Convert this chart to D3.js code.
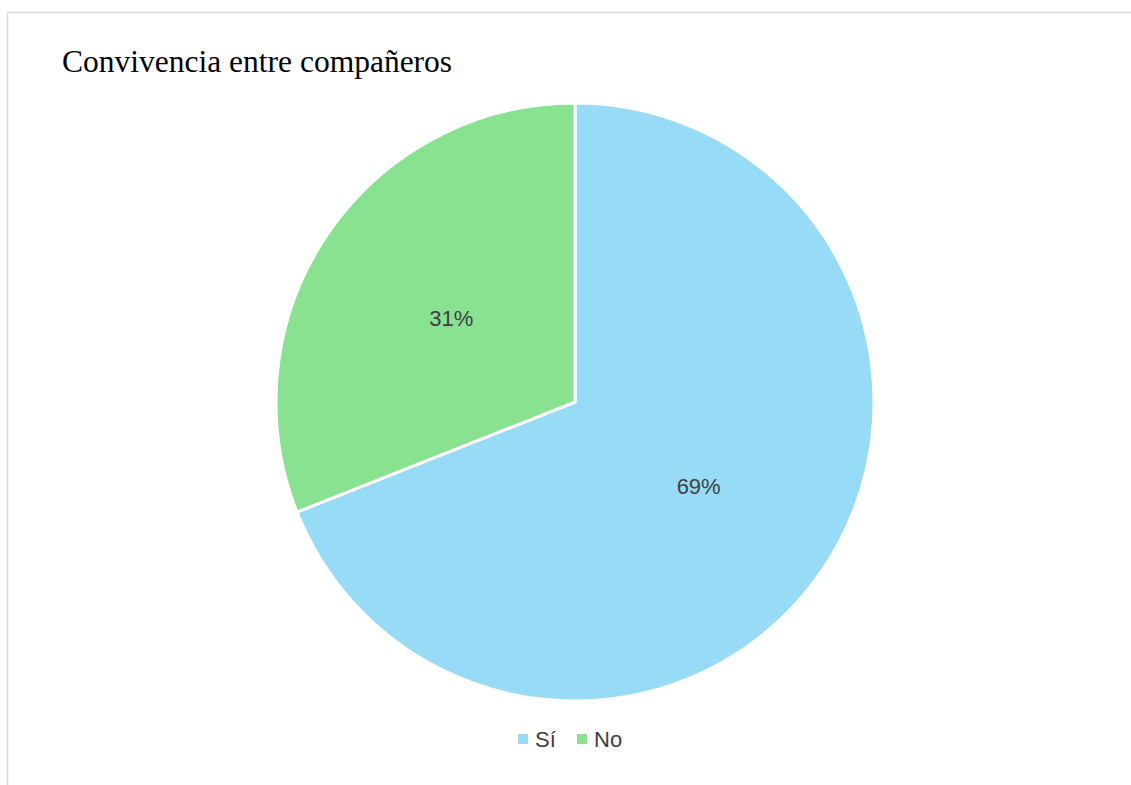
<!DOCTYPE html>
<html>
<head>
<meta charset="utf-8">
<script src="https://cdn.jsdelivr.net/npm/d3@7"></script>
<style>
html,body{margin:0;padding:0;background:#fff;}
</style>
</head>
<body>
<svg id="chart" width="1131" height="785"></svg>
<script>
const title = "Convivencia entre compañeros";
const categories = ["Sí", "No"];
const values = [69, 31];
const colors = ["#97DBF7", "#88E290"];

const svg = d3.select("#chart");
// frame (top & left border visible)
svg.append("rect").attr("x", 7.5).attr("y", 12.5).attr("width", 1160).attr("height", 800)
  .attr("fill", "none").attr("stroke", "#d9d9d9").attr("stroke-width", 1.5);

svg.append("text").attr("x", 62).attr("y", 72)
  .attr("font-family", "'Liberation Serif','Times New Roman',serif")
  .attr("font-size", 31.5).attr("fill", "#000").text(title);

const cx = 575, cy = 402, r = 299;
const data = categories.map((c, i) => ({cat: c, value: values[i], color: colors[i]}));
const pie = d3.pie().value(d => d.value).sort(null);
const arc = d3.arc().innerRadius(0).outerRadius(r);
const g = svg.append("g").attr("transform", `translate(${cx},${cy})`);
const arcs = pie(data);
g.selectAll("path").data(arcs).join("path")
  .attr("d", arc).attr("fill", d => d.data.color)
  .attr("stroke", "#fff").attr("stroke-width", 3).attr("stroke-linejoin", "round");

const total = d3.sum(values);
g.selectAll("text.lbl").data(arcs).join("text").attr("class", "lbl")
  .attr("transform", d => `translate(${arc.centroid(d)})`)
  .attr("text-anchor", "middle").attr("dy", "0.35em")
  .attr("font-family", "'Liberation Sans',Arial,sans-serif")
  .attr("font-size", 22).attr("fill", "#404040")
  .text(d => Math.round(d.data.value / total * 100) + "%");

// legend
const legend = svg.append("g").attr("transform", "translate(518,739)");
const legendX = [0, 59];
const items = legend.selectAll("g").data(data).join("g")
  .attr("transform", (d, i) => `translate(${legendX[i]},0)`);
items.append("rect").attr("x", 0).attr("y", -5).attr("width", 10).attr("height", 10).attr("fill", d => d.color);
items.append("text").attr("x", 17).attr("dy", "0.35em")
  .attr("font-family", "'Liberation Sans',Arial,sans-serif")
  .attr("font-size", 22).attr("fill", "#404040").text(d => d.cat);
</script>
</body>
</html>
